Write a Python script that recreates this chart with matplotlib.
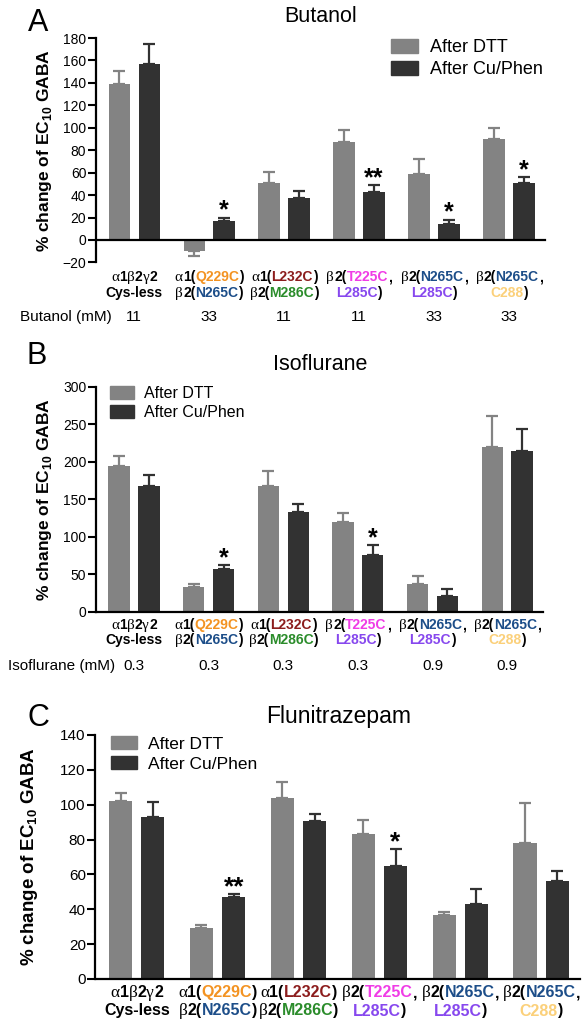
"""GABA-A receptor cysteine crosslink figure: three bar panels (butanol, isoflurane, flunitrazepam)."""
import numpy as np
import matplotlib
matplotlib.use('Agg')
import matplotlib.pyplot as plt
from matplotlib.offsetbox import TextArea, HPacker, AnnotationBbox
from matplotlib.transforms import blended_transform_factory
from matplotlib.patches import Patch

plt.rcParams['font.family'] = ['Liberation Sans', 'DejaVu Sans']
plt.rcParams['mathtext.fontset'] = 'custom'
plt.rcParams['mathtext.rm'] = 'Liberation Sans'
plt.rcParams['mathtext.bf'] = 'Liberation Sans:bold'

W, H = 587, 1027
DTT_COLOR = '#838383'
CU_COLOR = '#323232'

ORANGE = '#F39322'
DARKRED = '#8C1D1D'
BLUE = '#1D4E89'
GREEN = '#2B8C2B'
MAGENTA = '#F03CE6'
PURPLE = '#8748EE'
YELLOW = '#FBD07A'

# --- data ---
butanol_dtt = [139, -10, 51, 87, 59, 90]
butanol_dtt_err = [12, 4, 10, 11, 13, 10]
butanol_cu = [157, 17, 37, 43, 14, 51]
butanol_cu_err = [18, 3, 7, 6, 4, 5]
butanol_stars = ['', '*', '', '**', '*', '*']
butanol_conc = ['11', '33', '11', '11', '33', '33']

iso_dtt = [194, 33, 168, 120, 37, 220]
iso_dtt_err = [14, 3.5, 20, 11, 11, 41]
iso_cu = [167, 57, 133, 75, 21, 214]
iso_cu_err = [15, 5, 10, 14, 9, 29]
iso_stars = ['', '*', '', '*', '', '']
iso_conc = ['0.3', '0.3', '0.3', '0.3', '0.9', '0.9']

flu_dtt = [102, 29, 104, 83, 37, 78]
flu_dtt_err = [5, 2, 9, 8.5, 1.3, 23]
flu_cu = [93, 47, 90.5, 65, 43, 56]
flu_cu_err = [8.5, 1.8, 4, 9.6, 8.6, 6]
flu_stars = ['', '**', '', '*', '', '']

# category labels: (text, colour) pieces, two lines each
group_labels = [
    [[('α', 'k'), ('1', 'k'), ('β', 'k'), ('2', 'k'), ('γ', 'k'), ('2', 'k')],
     [('Cys-less', 'k')]],
    [[('α', 'k'), ('1(', 'k'), ('Q229C', ORANGE), (')', 'k')],
     [('β', 'k'), ('2(', 'k'), ('N265C', BLUE), (')', 'k')]],
    [[('α', 'k'), ('1(', 'k'), ('L232C', DARKRED), (')', 'k')],
     [('β', 'k'), ('2(', 'k'), ('M286C', GREEN), (')', 'k')]],
    [[('β', 'k'), ('2(', 'k'), ('T225C', MAGENTA), (',', 'k')],
     [('L285C', PURPLE), (')', 'k')]],
    [[('β', 'k'), ('2(', 'k'), ('N265C', BLUE), (',', 'k')],
     [('L285C', PURPLE), (')', 'k')]],
    [[('β', 'k'), ('2(', 'k'), ('N265C', BLUE), (',', 'k')],
     [('C288', YELLOW), (')', 'k')]],
]

fig = plt.figure(figsize=(W / 100, H / 100), dpi=100)
BAR_W = 0.285
OFF = 0.2


def line_box(line, size):
    parts = []
    for txt, col in line:
        if txt in 'αβγ':
            props = dict(color=col, fontsize=size + 1, family='Liberation Serif')
        else:
            props = dict(color=col, fontsize=size, fontweight='bold')
        parts.append(TextArea(txt, textprops=props))
    return HPacker(children=parts, align='baseline', pad=0, sep=0)


def panel(rect, ylim, yticks, dtt, dtt_err, cu, cu_err, stars, lay, conc=None, conc_name=None):
    l, r, t, b = rect
    ax = fig.add_axes([l / W, 1 - b / H, (r - l) / W, (b - t) / H])
    x = np.arange(len(dtt))
    ax.bar(x - OFF, dtt, BAR_W, color=DTT_COLOR)
    ax.bar(x + OFF, cu, BAR_W, color=CU_COLOR)
    for xs, vals, errs, col in [(x - OFF, dtt, dtt_err, DTT_COLOR), (x + OFF, cu, cu_err, CU_COLOR)]:
        vals = np.array(vals, float)
        errs = np.array(errs, float)
        lo = np.where(vals < 0, errs, 0)
        hi = np.where(vals >= 0, errs, 0)
        ax.errorbar(xs, vals, yerr=[lo, hi], fmt='none', ecolor=col,
                    elinewidth=1.6, capsize=4.5, capthick=1.6)
    for i, s in enumerate(stars):
        if s:
            ax.annotate(s, xy=(i + OFF, cu[i] + cu_err[i]), xytext=(0, 0),
                        textcoords='offset points', ha='center', va='baseline',
                        fontsize=lay['star'], fontweight='bold')
    ax.set_xlim(-0.51, 5.48)
    ax.set_ylim(*ylim)
    ax.set_yticks(yticks)
    ax.tick_params(axis='y', labelsize=lay['tick'], length=6, width=1.5, pad=1)
    ax.tick_params(axis='x', bottom=False, labelbottom=False)
    for sp in ['top', 'right']:
        ax.spines[sp].set_visible(False)
    for sp in ['left', 'bottom']:
        ax.spines[sp].set_linewidth(1.6)
    ax.spines['bottom'].set_position(('data', 0))

    tx, ty, tsize, ttext = lay['title']
    fig.text(tx / W, 1 - ty / H, ttext, ha='center', va='center', fontsize=tsize)
    lx, ly, letter = lay['letter']
    fig.text(lx / W, 1 - ly / H, letter, ha='center', va='center', fontsize=22)
    yx, yy, ysize = lay['ylabel']
    fig.text(yx / W, 1 - yy / H, r'% change of EC$_{\mathbf{10}}$ GABA',
             rotation=90, ha='center', va='center', fontsize=ysize, fontweight='bold')

    trans = blended_transform_factory(ax.transData, fig.transFigure)
    for i, lines in enumerate(group_labels):
        for line, cy in zip(lines, lay['rows']):
            ab = AnnotationBbox(line_box(line, lay['lab']), (i, 1 - cy / H), xycoords=trans,
                                box_alignment=(0.5, 0.5), frameon=False, pad=0,
                                annotation_clip=False)
            ax.add_artist(ab)
    if conc is not None:
        cname, cx, cy = conc_name
        fig.text(cx / W, 1 - cy / H, cname, ha='left', va='center', fontsize=11)
        for i, c in enumerate(conc):
            ax.text(i, 1 - cy / H, c, transform=trans, ha='center', va='center', fontsize=11)

    gx, gy, gsize = lay['legend']
    handles = [Patch(color=DTT_COLOR), Patch(color=CU_COLOR)]
    fig.legend(handles, ['After DTT', 'After Cu/Phen'], loc='upper left',
               bbox_to_anchor=(gx / W, 1 - gy / H), frameon=False,
               fontsize=gsize, handlelength=1.5, handleheight=0.8, handletextpad=0.65,
               labelspacing=0.25, borderpad=0, borderaxespad=0)
    return ax


panel((96, 545, 38, 262.4), (-20, 180), np.arange(-20, 181, 20),
      butanol_dtt, butanol_dtt_err, butanol_cu, butanol_cu_err, butanol_stars,
      dict(title=(321, 17, 15.5, 'Butanol'), letter=(38, 23, 'A'), ylabel=(45, 150, 12.5),
           rows=(277, 293), lab=10, legend=(391, 39, 13), tick=10, star=18),
      butanol_conc, ('Butanol (mM)', 20, 317))

panel((96, 543, 386.7, 611.7), (0, 300), np.arange(0, 301, 50),
      iso_dtt, iso_dtt_err, iso_cu, iso_cu_err, iso_stars,
      dict(title=(320, 365, 15.5, 'Isoflurane'), letter=(37, 356, 'B'), ylabel=(45, 499, 12.5),
           rows=(625, 640), lab=10, legend=(110, 386, 11.5), tick=10, star=18),
      iso_conc, ('Isoflurane (mM)', 8, 666))

panel((95.5, 580, 735, 979), (0, 140), np.arange(0, 141, 20),
      flu_dtt, flu_dtt_err, flu_cu, flu_cu_err, flu_stars,
      dict(title=(339, 717, 16.5, 'Flunitrazepam'), letter=(38, 718, 'C'), ylabel=(30, 857, 13.5),
           rows=(993, 1011), lab=11.5, legend=(111, 736, 12.5), tick=11, star=19))

plt.savefig('out.png', dpi=100)
